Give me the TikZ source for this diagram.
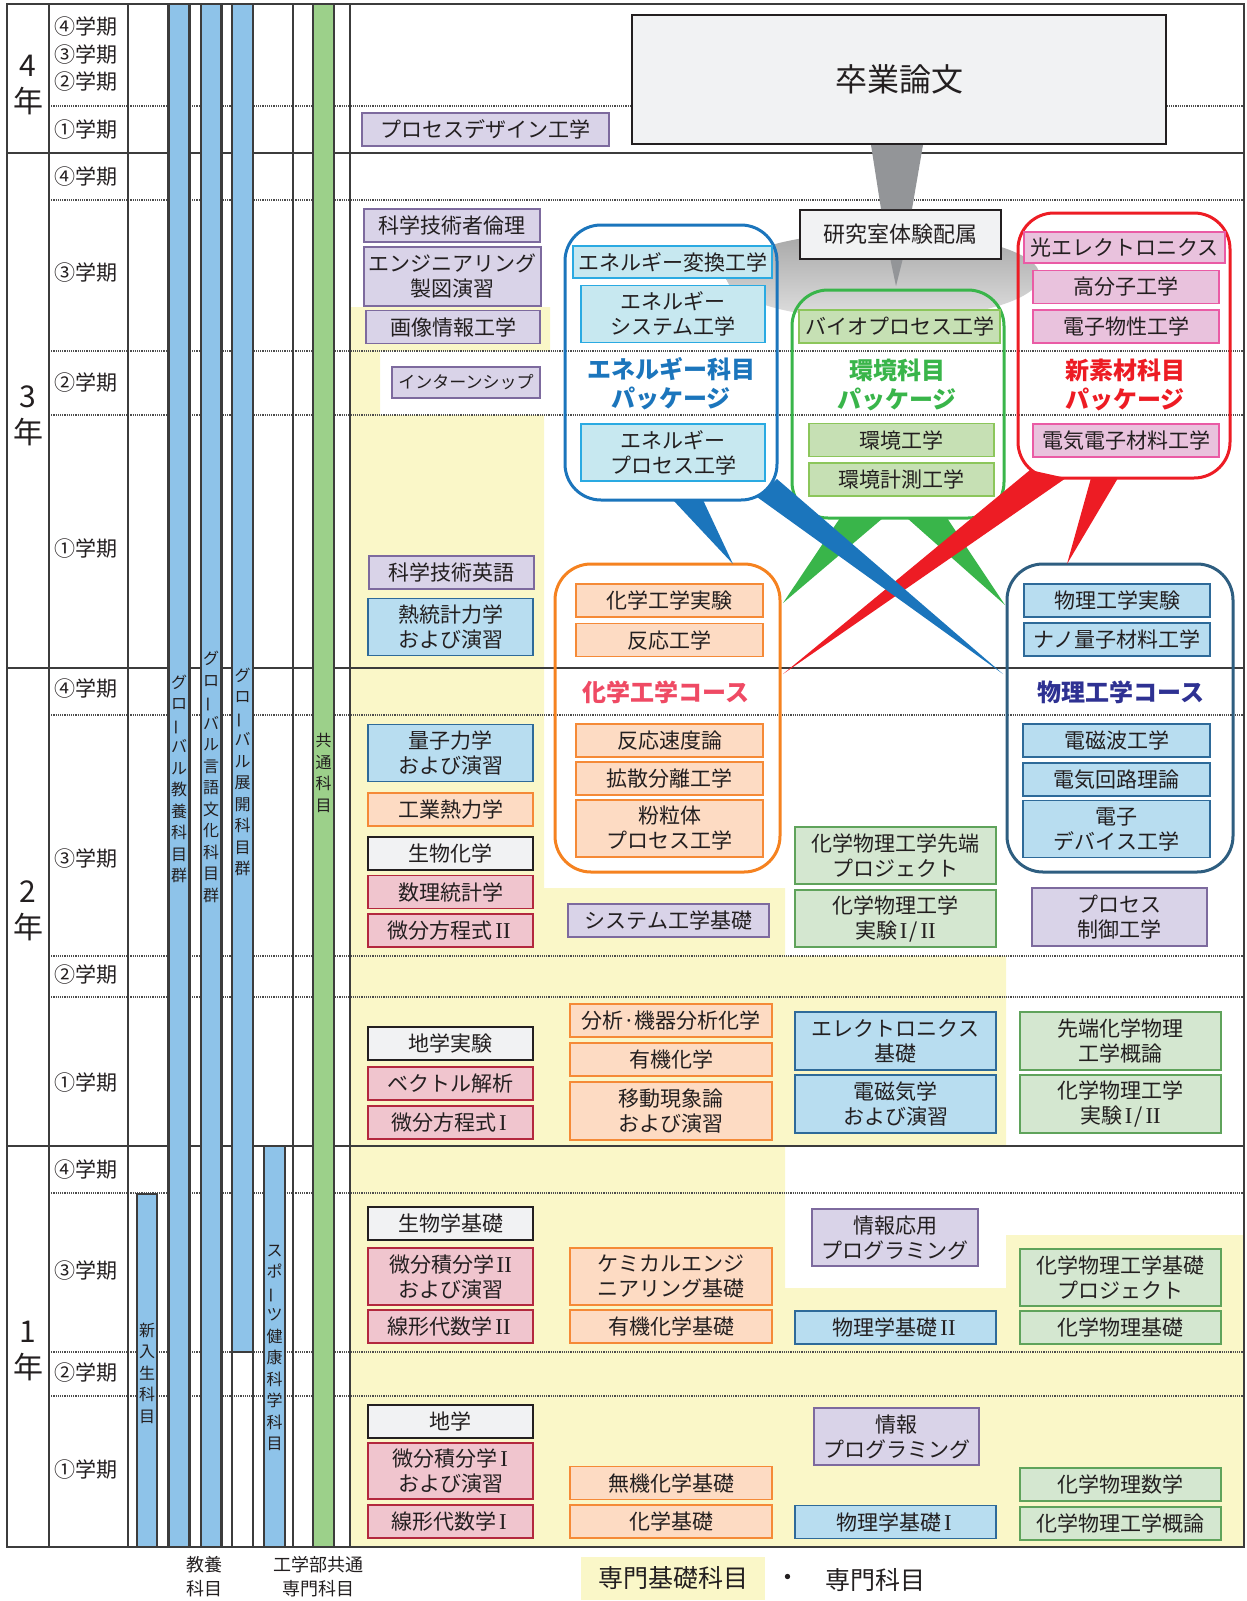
\documentclass[tikz,border=0pt]{standalone}
\usepackage{fontspec}
\setmainfont{Noto Sans CJK JP}
\newfontfamily\romanfont[Scale=1.08]{Liberation Serif}
\usepackage{tikz}
\usetikzlibrary{positioning,calc}

\definecolor{ink}{HTML}{231F20}
\definecolor{gridc}{HTML}{3C3C3C}
\definecolor{dotc}{HTML}{4D4D4D}
\definecolor{yellowbg}{HTML}{FAF7C8}
\definecolor{barblue}{HTML}{8EC3E9}
\definecolor{bargreen}{HTML}{9CD08A}
\definecolor{lavfill}{HTML}{D9D3E8}
\definecolor{lavline}{HTML}{7D6A9E}
\definecolor{peachfill}{HTML}{FDDBC3}
\definecolor{peachline}{HTML}{F58A37}
\definecolor{mathfill}{HTML}{F0C5CE}
\definecolor{mathline}{HTML}{B3283E}
\definecolor{whitefill}{HTML}{F1F2F3}
\definecolor{physfill}{HTML}{B8DDF0}
\definecolor{physline}{HTML}{2E6A99}
\definecolor{chemfill}{HTML}{D4E7D0}
\definecolor{chemline}{HTML}{5FA35B}
\definecolor{enefill}{HTML}{C7E8F0}
\definecolor{eneline}{HTML}{2AAAE2}
\definecolor{envfill}{HTML}{C6E0B4}
\definecolor{envline}{HTML}{8CC65B}
\definecolor{matfill}{HTML}{E9C2DD}
\definecolor{matline}{HTML}{EA5BA5}
\definecolor{enecol}{HTML}{1B75BC}
\definecolor{envcol}{HTML}{39B54A}
\definecolor{matcol}{HTML}{ED1C24}
\definecolor{chemcol}{HTML}{F58220}
\definecolor{physcol}{HTML}{2E5E80}
\definecolor{chemtitle}{HTML}{EF4A64}
\definecolor{phystitle}{HTML}{2E3192}
\definecolor{arrowgray}{HTML}{939598}

\newcommand{\tatebou}{\rotatebox[origin=c]{90}{ー}}
\newcommand{\romI}{\hspace{0.12em}{\romanfont I}\hspace{0.12em}}
\newcommand{\romII}{\hspace{0.12em}{\romanfont II}\hspace{0.12em}}

\begin{document}
\begin{tikzpicture}[x=1pt,y=-1pt,inner sep=0pt,outer sep=0pt]
	\tikzstyle{kamoku}=[draw,line width=1.5pt,text=ink,align=center,minimum height=33pt,font=\fontsize{21}{25}\selectfont]
	\tikzstyle{two}=[minimum height=57pt]
	\tikzstyle{colA}=[minimum width=165pt]
	\tikzstyle{colB}=[minimum width=202pt]
	\tikzstyle{colC}=[minimum width=201pt]
	\tikzstyle{colD}=[minimum width=201pt]
	\tikzstyle{lav}=[kamoku,fill=lavfill,draw=lavline]
	\tikzstyle{peach}=[kamoku,fill=peachfill,draw=peachline]
	\tikzstyle{mathbox}=[kamoku,fill=mathfill,draw=mathline]
	\tikzstyle{plain}=[kamoku,fill=whitefill,draw=ink,line width=2pt]
	\tikzstyle{phys}=[kamoku,fill=physfill,draw=physline]
	\tikzstyle{chem}=[kamoku,fill=chemfill,draw=chemline]
	\tikzstyle{ene}=[kamoku,fill=enefill,draw=eneline]
	\tikzstyle{env}=[kamoku,fill=envfill,draw=envline]
	\tikzstyle{mat}=[kamoku,fill=matfill,draw=matline]
	\tikzstyle{term}=[anchor=west,text=ink,font=\fontsize{21}{25}\selectfont]
	\tikzstyle{year}=[align=center,text=ink,font=\fontsize{30}{36}\selectfont]
	\tikzstyle{bar}=[draw=gridc,line width=1.2pt]
	\tikzstyle{bartext}=[align=center,text=ink,font=\fontsize{16}{21.5}\selectfont]
	\tikzstyle{pkg}=[draw,line width=3pt,rounded corners=36pt]
	\tikzstyle{pkgtitle}=[align=center,font=\bfseries\fontsize{24}{29}\selectfont]
	
	\useasboundingbox (0,0) rectangle (1247,1601);
	
	% yellow background
	\fill[yellowbg] (350,307) -- (550,307) -- (550,351) -- (380,351) -- (380,415) -- (544,415) -- (544,888) -- (785,888) -- (785,956) -- (1006,956) -- (1006,1146) -- (785,1146) -- (785,1288) -- (1006,1288) -- (1006,1235) -- (1244,1235) -- (1244,1547) -- (350,1547) -- cycle;
	
	% grid
	\foreach \y in {106,200,351,415,715,956,997,1193,1352,1396}
		\draw[dotc,densely dotted,line width=1.2pt] (49,\y) -- (1244,\y);
	\foreach \y in {153,668,1146}
		\draw[gridc,line width=1.8pt] (7,\y) -- (1244,\y);
	\foreach \x in {49,128,168,190,201,222,232,253,293,334,350}
		\draw[gridc,line width=1.2pt] (\x,4) -- (\x,1547);
	\draw[gridc,line width=1.8pt] (7,4) rectangle (1244,1547);
	
	% bars
	\filldraw[bar,fill=barblue] (137,1194) rectangle (157,1547);
	\filldraw[bar,fill=barblue] (169,4) rectangle (189,1547);
	\filldraw[bar,fill=barblue] (201,4) rectangle (221,1547);
	\filldraw[bar,fill=barblue] (232,4) rectangle (253,1352);
	\filldraw[bar,fill=barblue] (264,1146) rectangle (285,1547);
	\filldraw[bar,fill=bargreen] (313,4) rectangle (334,1547);
	\node[bartext] (shinyu) at (147,1373) {新\\入\\生\\科\\目};
	\node[bartext] (kyoyo) at (179,779) {グ\\ロ\\\tatebou\\バ\\ル\\教\\養\\科\\目\\群};
	\node[bartext] (gengo) at (211,777) {グ\\ロ\\\tatebou\\バ\\ル\\言\\語\\文\\化\\科\\目\\群};
	\node[bartext] (tenkai) at (242.5,772) {グ\\ロ\\\tatebou\\バ\\ル\\展\\開\\科\\目\\群};
	\node[bartext] (sports) at (274.5,1348) {ス\\ポ\\\tatebou\\ツ\\健\\康\\科\\学\\科\\目};
	\node[bartext] (kyotsu) at (323.5,773) {共\\通\\科\\目};
	
	% years and terms
	\node[year] (y4) at (28,85) {4\\年};
	\node[year] (y3) at (28,416) {3\\年};
	\node[year] (y2) at (28,911) {2\\年};
	\node[year] (y1) at (28,1351) {1\\年};
	\node[term] (t44) at (54,27) {④学期};
	\node[term] (t43) at (54,55) {③学期};
	\node[term] (t42) at (54,82) {②学期};
	\node[term] (t41) at (54,130) {①学期};
	\node[term] (t34) at (54,177) {④学期};
	\node[term] (t33) at (54,273) {③学期};
	\node[term] (t32) at (54,383) {②学期};
	\node[term] (t31) at (54,549) {①学期};
	\node[term] (t24) at (54,689) {④学期};
	\node[term] (t23) at (54,859) {③学期};
	\node[term] (t22) at (54,975) {②学期};
	\node[term] (t21) at (54,1083) {①学期};
	\node[term] (t14) at (54,1170) {④学期};
	\node[term] (t13) at (54,1271) {③学期};
	\node[term] (t12) at (54,1373) {②学期};
	\node[term] (t11) at (54,1470) {①学期};
	
	% lab area
	\shade[top color=black!35,bottom color=black!12] (883,276) ellipse (157 and 44);
	
	% thesis and lab
	\node[plain,line width=2.5pt,minimum width=534pt,minimum height=129pt,font=\fontsize{32}{38}\selectfont] (sotsuron) at (899,79.5) {卒業論文};
	\node[plain,line width=2.5pt,minimum width=201pt,minimum height=49pt,font=\fontsize{22}{26}\selectfont] (lab) at (900.5,234.5) {研究室体験配属};
	\fill[arrowgray] ($(sotsuron.south)+(-28,1)$) -- ($(sotsuron.south)+(24,1)$) -- ($(lab.north)+(11.5,-1)$) -- ($(lab.north)+(-19.5,-1)$) -- cycle;
	\fill[arrowgray] ($(lab.south)+(-10,1)$) -- ($(lab.south)+(2,1)$) -- ($(lab.south)+(-4.5,27)$) -- cycle;
	
	% packages and courses
	\node[pkg,draw=enecol,minimum width=212pt,minimum height=275pt] (enepkg) at (671,362.5) {};
	\node[pkg,draw=envcol,minimum width=212pt,minimum height=228pt] (envpkg) at (898,404) {};
	\node[pkg,draw=matcol,minimum width=212pt,minimum height=265pt] (matpkg) at (1124,345.5) {};
	\node[pkg,draw=chemcol,minimum width=225pt,minimum height=308pt] (chemcourse) at (667.5,718) {};
	\node[pkg,draw=physcol,minimum width=226pt,minimum height=308pt] (physcourse) at (1120,718) {};
	
	\fill[envcol] ($(envpkg.south)+(-58,0)$) -- ($(envpkg.south)+(-15,0)$) -- ($(chemcourse.east)+(3,-115)$) -- cycle;
	\fill[envcol] ($(envpkg.south)+(9,0)$) -- ($(envpkg.south)+(49,0)$) -- ($(physcourse.west)+(-2,-113)$) -- cycle;
	\fill[matcol] ($(matpkg.south west)+(12,-8)$) -- ($(matpkg.south)+(-58,0)$) -- ($(chemcourse.east)+(3,-44)$) -- cycle;
	\fill[matcol] ($(matpkg.south)+(-33,0)$) -- ($(matpkg.south)+(-6,0)$) -- ($(physcourse.north)+(-53,0)$) -- cycle;
	\fill[enecol] ($(enepkg.south)+(2,0)$) -- ($(enepkg.south)+(32,0)$) -- ($(chemcourse.north)+(65.5,0)$) -- cycle;
	\fill[enecol] ($(enepkg.south east)+(-20,-3)$) -- ($(enepkg.south east)+(0,-21)$) -- ($(physcourse.west)+(-4,-44)$) -- cycle;
	
	\node[pkgtitle,text=enecol] (enetitle) at (671,384) {エネルギー科目\\パッケージ};
	\node[pkgtitle,text=envcol] (envtitle) at (897,385) {環境科目\\パッケージ};
	\node[pkgtitle,text=matcol] (mattitle) at (1125,385) {新素材科目\\パッケージ};
	\node[pkgtitle,text=chemtitle] (chemname) at (666,692) {化学工学コース};
	\node[pkgtitle,text=phystitle] (physname) at (1121,692) {物理工学コース};
	
	\node[ene,minimum width=199pt,minimum height=32pt] (henkan) at (672.5,262) {エネルギー変換工学};
	\node[ene,minimum width=184pt,two] (enesys) at (673,314) {エネルギー\\システム工学};
	\node[ene,minimum width=184pt,two] (enepro) at (673,452.5) {エネルギー\\プロセス工学};
	\node[env,colC] (bio) at (899.5,326.5) {バイオプロセス工学};
	\node[env,minimum width=185pt] (kankyo) at (901.5,440) {環境工学};
	\node[env,minimum width=185pt] (keisoku) at (901.5,479.5) {環境計測工学};
	\node[mat,colD,minimum height=31pt] (hikari) at (1124.5,247.5) {光エレクトロニクス};
	\node[mat,minimum width=186pt] (kobunshi) at (1126,287) {高分子工学};
	\node[mat,minimum width=186pt] (denshi) at (1126,326.5) {電子物性工学};
	\node[mat,minimum width=186pt] (zairyo) at (1126,440.5) {電気電子材料工学};
	
	\node[peach,minimum width=187pt] (chemjk) at (669.5,600.5) {化学工学実験};
	\node[peach,minimum width=187pt] (hanno) at (669.5,640) {反応工学};
	\node[peach,minimum width=187pt] (sokudo) at (669.5,740.5) {反応速度論};
	\node[peach,minimum width=187pt] (kakusan) at (669.5,778.5) {拡散分離工学};
	\node[peach,minimum width=187pt,two] (funryu) at (669.5,828.5) {粉粒体\\プロセス工学};
	\node[phys,minimum width=186pt] (physjk) at (1117,600.5) {物理工学実験};
	\node[phys,minimum width=186pt] (nano) at (1117,639.5) {ナノ量子材料工学};
	\node[phys,minimum width=187pt] (denjiha) at (1116.5,740.5) {電磁波工学};
	\node[phys,minimum width=187pt] (kairo) at (1116.5,779.5) {電気回路理論};
	\node[phys,minimum width=187pt,two] (device) at (1116.5,829) {電子\\デバイス工学};
	
	% 4th and 3rd year
	\node[lav,minimum width=247pt] (procdesign) at (485.5,129.5) {プロセスデザイン工学};
	\node[lav,minimum width=176pt] (rinri) at (452,225.5) {科学技術者倫理};
	\node[lav,minimum width=177pt,minimum height=59pt] (seizu) at (452.5,276.5) {エンジニアリング\\製図演習};
	\node[lav,minimum width=174pt] (gazo) at (453,327) {画像情報工学};
	\node[lav,minimum width=148pt,minimum height=31pt,font=\fontsize{17}{20}\selectfont] (intern) at (466,382.5) {インターンシップ};
	\node[lav,colA] (eigo) at (451.5,572.5) {科学技術英語};
	\node[phys,colA,two] (netsu) at (450.5,627) {熱統計力学\\および演習};
	
	% 2nd year
	\node[phys,colA,two] (ryoshi) at (450.5,753) {量子力学\\および演習};
	\node[peach,colA] (kogyonetsu) at (450.5,809.5) {工業熱力学};
	\node[plain,colA] (seibutsu) at (450.5,853.5) {生物化学};
	\node[mathbox,colA] (suri) at (450.5,892) {数理統計学};
	\node[mathbox,colA] (bibun2) at (450.5,930.5) {微分方程式\romII};
	\node[lav,colC] (sysbasic) at (668.5,920.5) {システム工学基礎};
	\node[chem,colC,two] (senpro) at (895.5,855.5) {化学物理工学先端\\プロジェクト};
	\node[chem,colC,two] (jikken2) at (895.5,918.5) {化学物理工学\\実験\romI/\romII};
	\node[lav,minimum width=175pt,minimum height=58pt] (seigyo) at (1119.5,917) {プロセス\\制御工学};
	\node[plain,colA] (chigakujk) at (450.5,1043.5) {地学実験};
	\node[mathbox,colA] (vector) at (450.5,1083.5) {ベクトル解析};
	\node[mathbox,colA] (bibun1) at (450.5,1122.5) {微分方程式\romI};
	\node[peach,colB] (bunseki) at (671,1020.5) {分析·機器分析化学};
	\node[peach,colB] (yuki) at (671,1059.5) {有機化学};
	\node[peach,colB,minimum height=58pt] (ido) at (671,1111) {移動現象論\\および演習};
	\node[phys,colC,minimum height=58pt] (elec) at (895.5,1041) {エレクトロニクス\\基礎};
	\node[phys,colC,minimum height=58pt] (denjiki) at (895.5,1104) {電磁気学\\および演習};
	\node[chem,colD,minimum height=58pt] (sentan) at (1120.5,1041) {先端化学物理\\工学概論};
	\node[chem,colD,minimum height=58pt] (jikken1) at (1120.5,1104) {化学物理工学\\実験\romI/\romII};
	
	% 1st year
	\node[plain,colA] (seibutsukiso) at (450.5,1223.5) {生物学基礎};
	\node[mathbox,colA,two] (sekibun2) at (450.5,1276.5) {微分積分学\romII\\および演習};
	\node[mathbox,colA] (senkei2) at (450.5,1326.5) {線形代数学\romII};
	\node[peach,colB,two] (chemeng) at (671,1276.5) {ケミカルエンジ\\ニアリング基礎};
	\node[peach,colB] (yukikiso) at (671,1326.5) {有機化学基礎};
	\node[lav,minimum width=166pt,two] (johoapp) at (895,1237.5) {情報応用\\プログラミング};
	\node[phys,colC] (butsuri2) at (895.5,1327.5) {物理学基礎\romII};
	\node[chem,colD,two] (kisopro) at (1120.5,1277.5) {化学物理工学基礎\\プロジェクト};
	\node[chem,colD] (kpkiso) at (1120.5,1327.5) {化学物理基礎};
	\node[plain,colA] (chigaku) at (450.5,1421.5) {地学};
	\node[mathbox,colA,minimum height=56pt] (sekibun1) at (450.5,1471) {微分積分学\romI\\および演習};
	\node[mathbox,colA] (senkei1) at (450.5,1521.5) {線形代数学\romI};
	\node[peach,colB] (muki) at (671,1483) {無機化学基礎};
	\node[peach,colB] (kagakukiso) at (671,1521.5) {化学基礎};
	\node[lav,minimum width=165pt,two] (joho) at (896.5,1436.5) {情報\\プログラミング};
	\node[phys,colC] (butsuri1) at (895.5,1522) {物理学基礎\romI};
	\node[chem,colD] (kpsugaku) at (1120.5,1484.5) {化学物理数学};
	\node[chem,colD] (kpgairon) at (1120.5,1523.5) {化学物理工学概論};
	
	% legend
	\node[bartext,font=\fontsize{18}{24}\selectfont] (kyoyolabel) at (204,1577) {教養\\科目};
	\node[bartext,font=\fontsize{18}{24}\selectfont] (kogakubu) at (318,1577) {工学部共通\\専門科目};
	\node[fill=yellowbg,text=ink,minimum width=184pt,minimum height=43pt,font=\fontsize{25}{30}\selectfont] (senmonkiso) at (673,1578.5) {専門基礎科目};
	\node[text=ink,font=\fontsize{25}{30}\selectfont] (dot) at (788,1580) {・};
	\node[text=ink,font=\fontsize{25}{30}\selectfont] (senmon) at (875,1580) {専門科目};
\end{tikzpicture}
\end{document}
